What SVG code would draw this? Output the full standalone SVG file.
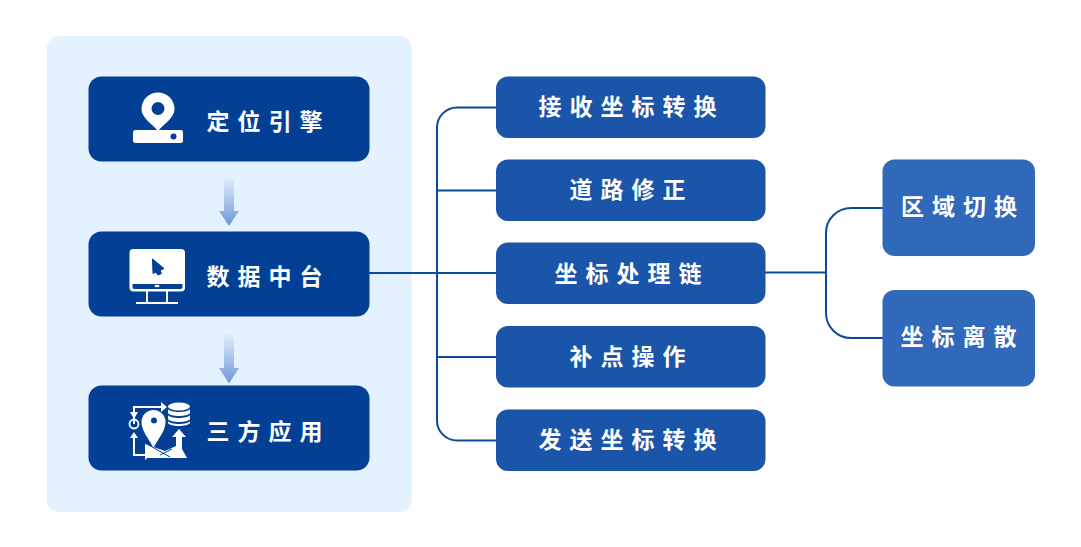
<svg xmlns="http://www.w3.org/2000/svg" width="1081" height="547" viewBox="0 0 1081 547">
<style>
text{font-family:"Noto Sans CJK SC","Noto Sans",sans-serif;font-weight:700;fill:#fff;letter-spacing:8px;font-size:23px}
.a{fill:#023f95}.b{fill:#1a55a9}.c{fill:#3068ba}
.l{fill:none;stroke:#0c4a9c;stroke-width:2}
.w{fill:#fff}.d{fill:#023f95}.s{fill:none;stroke:#fff;stroke-width:2}
</style>
<defs>
<linearGradient id="g" x1="0" y1="0" x2="0" y2="1"><stop offset="0" stop-color="#e3effc"/><stop offset="1" stop-color="#6c98d8"/></linearGradient>
</defs>
<rect x="47" y="36" width="364.500" height="476" rx="12" fill="#e4f1fe"/>
<g id="connectors">
<path class="l" d="M369 273H496.500M496.500 107.500H457a20 20 0 0 0-20 20V420.500a20 20 0 0 0 20 20H496.500M437 190.500H496.500M437 357H496.500"/>
<path class="l" d="M765 272.500H826M883 208H851a25 25 0 0 0-25 25V313a25 25 0 0 0 25 25H883"/>
<path d="M224 177H234V211H239L229 226L219 211H224Z" fill="url(#g)"/>
<path d="M224 333H234V368H239L229 383.500L219 368H224Z" fill="url(#g)"/>
</g>
<g id="node-engine"><rect class="a" x="88.500" y="76.500" width="281" height="85" rx="13"/>
<path class="w" d="M158 92.500a16.500 16.500 0 0 1 16.500 16.500c0 9-10 14-16.500 22c-6.500-8-16.500-13-16.500-22a16.500 16.500 0 0 1 16.500-16.500Z"/><circle class="d" cx="158" cy="108.500" r="6.500"/>
<rect class="w" x="133" y="130" width="50" height="13" rx="2.500"/><circle class="d" cx="173.500" cy="136.500" r="3"/>
<text x="206.500" y="129.500">定位引擎</text></g>
<g id="node-platform"><rect class="a" x="88.500" y="231.500" width="281" height="85" rx="13"/>
<rect class="w" x="129.500" y="249" width="55.500" height="42.500" rx="4"/>
<path class="d" d="M132.500 284H182.500V287a2 2 0 0 1-2 2H134.500a2 2 0 0 1-2-2Z"/><ellipse class="w" cx="157" cy="286" rx="2.500" ry="1.200"/>
<path class="d" d="M152.500 259L164 268.500L160 270.500L161.500 273.500L158 275L156 272L153 273.500Z" stroke="#023f95" stroke-width="1"/>
<path class="s" d="M136 303H178M147 291V303M167 291V303"/>
<text x="206.500" y="285">数据中台</text></g>
<g id="node-apps"><rect class="a" x="88.500" y="385.500" width="281" height="85" rx="13"/>
<path class="s" d="M134 424V407H162M134 436V455H146"/><path class="w" d="M161 402L167 407L161 412ZM145 450L151 455L145 460ZM130 412H138L134 419ZM130 438H138L134 432Z"/>
<circle cx="134" cy="424" r="4.500" fill="none" stroke="#fff" stroke-width="1.800"/>
<path class="w" d="M153.500 410a12 12 0 0 1 12 12c0 9-7 16-12 26c-5-10-12-17-12-26a12 12 0 0 1 12-12Z"/><circle class="d" cx="154" cy="420.500" r="3"/>
<ellipse class="w" cx="179" cy="406.500" rx="11" ry="4"/><path class="w" d="M168 409c2 4 20 4 22 0v4c-2 4-20 4-22 0ZM168 415c2 4 20 4 22 0v4c-2 4-20 4-22 0ZM168 421c2 4 20 4 22 0v2c-2 4-20 4-22 0Z"/>
<path class="w" d="M179 429L186 437H182V451H176V437H172Z"/>
<path class="w" d="M145 444L165 451L176 446L182 449L187 458H145Z"/><path d="M147 444L170 457M172 449L160 455" fill="none" stroke="#023f95" stroke-width="1"/>
<text x="206.500" y="440">三方应用</text></g>
<g id="node-recv"><rect class="b" x="496" y="76.500" width="269.500" height="61.500" rx="12"/><text x="538.500" y="114.500">接收坐标转换</text></g>
<g id="node-road"><rect class="b" x="496" y="159.500" width="269.500" height="61.500" rx="12"/><text x="569.500" y="198">道路修正</text></g>
<g id="node-chain"><rect class="b" x="496" y="242.500" width="269.500" height="61.500" rx="12"/><text x="554.500" y="281.500">坐标处理链</text></g>
<g id="node-fill"><rect class="b" x="496" y="326" width="269.500" height="61.500" rx="12"/><text x="569.500" y="364.500">补点操作</text></g>
<g id="node-send"><rect class="b" x="496" y="409.500" width="269.500" height="61.500" rx="12"/><text x="538.500" y="447.500">发送坐标转换</text></g>
<g id="node-zone"><rect class="c" x="882.500" y="159.500" width="152.500" height="96.500" rx="12"/><text x="901" y="215">区域切换</text></g>
<g id="node-scatter"><rect class="c" x="882.500" y="290" width="152.500" height="96.500" rx="12"/><text x="900.500" y="344.500">坐标离散</text></g>
</svg>
